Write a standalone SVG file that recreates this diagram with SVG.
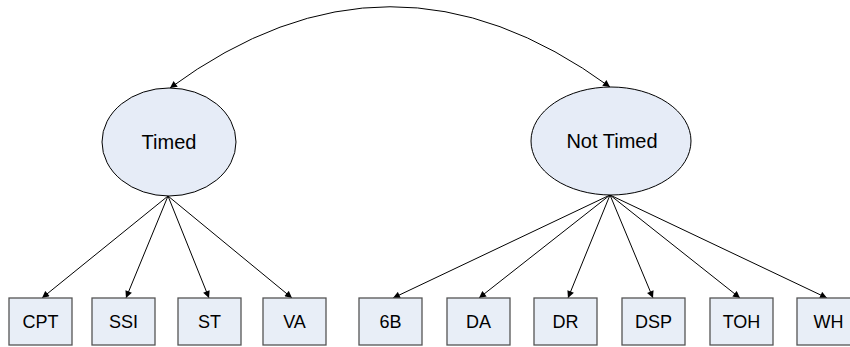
<svg xmlns="http://www.w3.org/2000/svg" width="850" height="347" viewBox="0 0 850 347">
<style>
.lat{fill:#E6ECF7;stroke:#000;stroke-width:1}
.obs{fill:#E8EEF7;stroke:#555;stroke-width:1.3}
.t{font-family:"Liberation Sans",Arial,sans-serif;fill:#000;text-anchor:middle}
.lt{font-size:20px}
.bt{font-size:18px}
.c{fill:none;stroke:#000;stroke-width:1;marker-end:url(#ah)}
.arc{marker-start:url(#ah)}
</style>
<defs>
<marker id="ah" viewBox="0 0 10 10" refX="10" refY="5" markerWidth="9" markerHeight="7" markerUnits="userSpaceOnUse" orient="auto-start-reverse">
<path d="M0,0 L10,5 L0,10 Z" fill="#000"/>
</marker>
</defs>
<g id="connectors">
<path class="c arc" d="M170,88 Q390,-74 610,87"/>
<line class="c" x1="168" y1="196" x2="42" y2="298"/>
<line class="c" x1="168" y1="196" x2="126" y2="298"/>
<line class="c" x1="168" y1="196" x2="209" y2="298"/>
<line class="c" x1="168" y1="196" x2="292" y2="298"/>
<line class="c" x1="610" y1="195" x2="393" y2="298"/>
<line class="c" x1="610" y1="195" x2="479" y2="298"/>
<line class="c" x1="610" y1="195" x2="568" y2="298"/>
<line class="c" x1="610" y1="195" x2="653" y2="298"/>
<line class="c" x1="610" y1="195" x2="740" y2="298"/>
<line class="c" x1="610" y1="195" x2="827" y2="298"/>
</g>
<g id="timed">
<ellipse class="lat" cx="169" cy="142" rx="67" ry="54"/>
<text class="t lt" x="169" y="149">Timed</text>
</g>
<g id="nottimed">
<ellipse class="lat" cx="611" cy="141" rx="80" ry="54"/>
<text class="t lt" x="612" y="148">Not Timed</text>
</g>
<g id="CPT"><rect class="obs" x="9" y="298" width="63" height="47"/><text class="t bt" x="40.5" y="328">CPT</text></g>
<g id="SSI"><rect class="obs" x="92" y="298" width="63" height="47"/><text class="t bt" x="123.5" y="328">SSI</text></g>
<g id="ST"><rect class="obs" x="178" y="298" width="63" height="47"/><text class="t bt" x="209.5" y="328">ST</text></g>
<g id="VA"><rect class="obs" x="263" y="298" width="63" height="47"/><text class="t bt" x="294.5" y="328">VA</text></g>
<g id="B6"><rect class="obs" x="359" y="298" width="63" height="47"/><text class="t bt" x="390.5" y="328">6B</text></g>
<g id="DA"><rect class="obs" x="447" y="298" width="63" height="47"/><text class="t bt" x="478.5" y="328">DA</text></g>
<g id="DR"><rect class="obs" x="534" y="298" width="63" height="47"/><text class="t bt" x="565.5" y="328">DR</text></g>
<g id="DSP"><rect class="obs" x="622" y="298" width="63" height="47"/><text class="t bt" x="653.5" y="328">DSP</text></g>
<g id="TOH"><rect class="obs" x="710" y="298" width="63" height="47"/><text class="t bt" x="741.5" y="328">TOH</text></g>
<g id="WH"><rect class="obs" x="797" y="298" width="63" height="47"/><text class="t bt" x="828.5" y="328">WH</text></g>
</svg>
